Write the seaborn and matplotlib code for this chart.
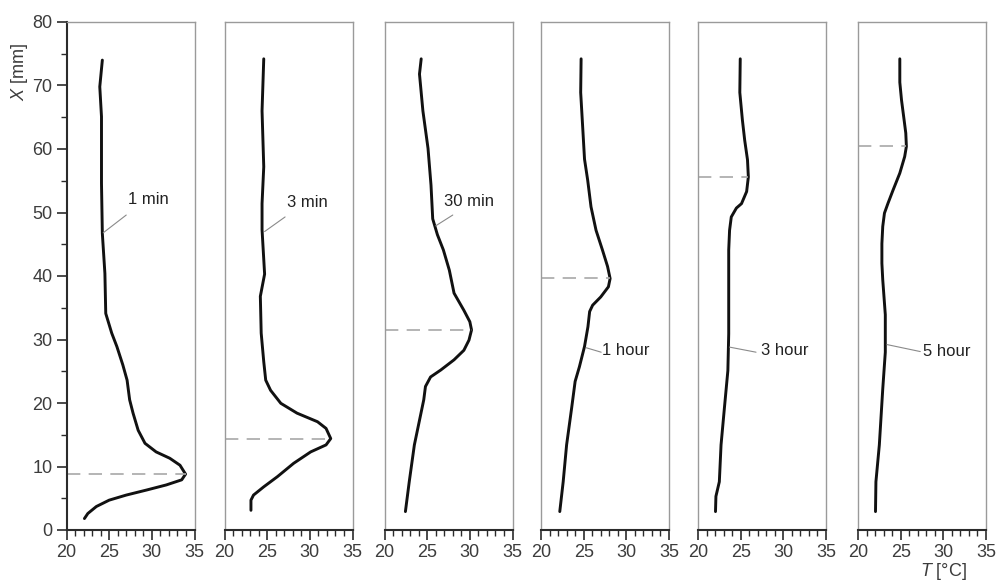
import numpy as np
import pandas as pd
import matplotlib
matplotlib.use("Agg")
import matplotlib.pyplot as plt
import seaborn as sns
from matplotlib.ticker import MultipleLocator

# ---------------- data ----------------
panel_labels = ["1 min", "3 min", "30 min", "1 hour", "3 hour", "5 hour"]

x_1min = [74.0, 69.8, 65.1, 59.8, 54.6, 46.7, 40.4, 34.1, 31.0, 28.9, 26.0, 23.6, 20.5, 18.4,
          15.7, 13.65, 12.3, 11.3, 10.2, 8.8, 7.9, 7.1, 6.3, 5.5, 4.7, 3.7, 2.6, 1.8]
t_1min = [24.2, 23.9, 24.1, 24.1, 24.1, 24.2, 24.5, 24.6, 25.3, 25.9, 26.6, 27.1, 27.4, 27.8,
          28.4, 29.2, 30.5, 32.1, 33.3, 33.95, 33.5, 31.7, 29.4, 27.0, 25.0, 23.5, 22.5, 22.1]

x_3min = [74.2, 66.0, 57.2, 51.4, 47.3, 40.3, 36.8, 31.0, 26.5, 23.6, 22.0, 19.95, 18.4, 17.05,
          16.0, 14.4, 13.4, 12.3, 10.5, 8.4, 6.8, 5.5, 4.7, 3.1]
t_3min = [24.6, 24.4, 24.6, 24.4, 24.4, 24.7, 24.2, 24.3, 24.6, 24.83, 25.4, 26.6, 28.5, 30.9,
          31.9, 32.45, 31.9, 30.1, 28.1, 26.2, 24.6, 23.4, 23.1, 23.1]

x_30min = [74.2, 71.8, 66.0, 60.1, 54.3, 49.0, 46.5, 44.1, 40.9, 37.3, 34.6, 32.8, 31.5, 29.9,
           28.3, 26.8, 25.2, 24.1, 22.6, 20.5, 13.4, 7.6, 2.9]
t_30min = [24.3, 24.1, 24.5, 25.1, 25.45, 25.65, 26.2, 26.9, 27.6, 28.15, 29.3, 30.0, 30.2, 29.9,
           29.3, 28.15, 26.6, 25.4, 24.8, 24.6, 23.5, 22.9, 22.45]

x_1hour = [74.2, 68.9, 63.1, 58.4, 55.1, 50.9, 47.2, 44.1, 41.5, 39.6, 38.3, 36.7, 35.4, 34.4,
           32.0, 28.9, 25.7, 23.4, 19.3, 13.4, 7.6, 2.9]
t_1hour = [24.7, 24.65, 24.9, 25.1, 25.47, 25.86, 26.45, 27.2, 27.8, 28.1, 27.9, 27.0, 26.05, 25.7,
           25.5, 25.1, 24.5, 24.0, 23.6, 23.0, 22.6, 22.2]

x_3hour = [74.2, 68.9, 64.6, 61.4, 58.3, 55.6, 53.3, 51.4, 50.7, 49.3, 47.2, 44.1, 36.8, 30.9,
           25.1, 19.3, 13.4, 7.6, 5.3, 2.9]
t_3hour = [24.95, 24.9, 25.2, 25.47, 25.8, 25.9, 25.7, 25.1, 24.5, 23.9, 23.7, 23.6, 23.6, 23.6,
           23.5, 23.1, 22.7, 22.5, 22.1, 22.05]

x_5hour = [74.2, 70.5, 67.7, 64.6, 62.5, 60.4, 58.8, 56.2, 53.5, 51.4, 49.9, 47.8, 45.1, 42.0,
           39.4, 33.9, 28.0, 22.2, 13.4, 7.6, 2.9]
t_5hour = [24.9, 24.9, 25.1, 25.4, 25.6, 25.67, 25.47, 24.9, 24.1, 23.5, 23.1, 22.9, 22.8, 22.8,
           22.9, 23.2, 23.2, 22.9, 22.5, 22.1, 22.05]

peak_x = [8.8, 14.4, 31.5, 39.7, 55.6, 60.5]
peak_t = [34.0, 32.45, 30.2, 28.1, 25.9, 25.67]

x_ticks = [20, 25, 30, 35]
y_ticks = [0, 10, 20, 30, 40, 50, 60, 70, 80]

series_x = [x_1min, x_3min, x_30min, x_1hour, x_3hour, x_5hour]
series_t = [t_1min, t_3min, t_30min, t_1hour, t_3hour, t_5hour]

frames = []
for lab, xs, ts in zip(panel_labels, series_x, series_t):
    frames.append(pd.DataFrame({"panel": lab, "X": xs, "T": ts}))
df = pd.concat(frames, ignore_index=True)

# ---------------- style ----------------
sns.set_style("ticks")
plt.rcParams["font.family"] = ["Liberation Sans", "DejaVu Sans"]
plt.rcParams["mathtext.fontset"] = "custom"
plt.rcParams["mathtext.it"] = "Liberation Sans:italic"
plt.rcParams["mathtext.rm"] = "Liberation Sans"

W, H = 998, 581
fig = plt.figure(figsize=(W / 100, H / 100), dpi=100)

lefts_px = [66.5, 224.5, 384.5, 541, 698, 858]
width_px = 128
bottom_px = 51
height_px = 508

# text/leader placement (data coords within each panel)
label_pos = [(27.2, 52.1), (27.3, 51.5), (27.0, 51.7), (27.2, 28.3), (27.4, 28.3), (27.6, 28.1)]
leader = [((27.0, 49.6), (24.3, 46.8)),
          ((27.1, 49.3), (24.7, 47.0)),
          ((28.0, 49.6), (26.0, 47.9)),
          ((27.05, 28.0), (25.3, 28.7)),
          ((26.8, 28.0), (23.7, 28.8)),
          ((27.3, 28.1), (23.4, 29.2))]

frame_gray = "#9a9a9a"
dark = "#2b2b2b"
tick_txt = "#3c3c3c"

for i, lab in enumerate(panel_labels):
    ax = fig.add_axes([lefts_px[i] / W, bottom_px / H, width_px / W, height_px / H])
    sub = df[df["panel"] == lab]
    sns.lineplot(data=sub, x="T", y="X", sort=False, estimator=None, ax=ax,
                 color="#111111", lw=2.1, solid_joinstyle="round", solid_capstyle="round")
    # dashed peak marker
    ax.plot([20, peak_t[i]], [peak_x[i], peak_x[i]], color="#a8a8a8", lw=1.2,
            dashes=(8, 5))
    # label and leader
    (x0, y0), (x1, y1) = leader[i]
    ax.plot([x0, x1], [y0, y1], color="#8a8a8a", lw=0.8)
    ax.text(label_pos[i][0], label_pos[i][1], lab, ha="left", va="center",
            fontsize=12, color="#222222")

    ax.set_xlim(20, 35)
    ax.set_ylim(0, 80)
    ax.set_xticks(x_ticks)
    ax.xaxis.set_minor_locator(MultipleLocator(1))
    ax.tick_params(axis="x", which="major", direction="out", length=7, width=1.2,
                   color=dark, labelsize=13, labelcolor=tick_txt, pad=3)
    ax.tick_params(axis="x", which="minor", direction="out", length=4, width=1.0, color=dark)
    ax.set_xlabel("")
    ax.set_ylabel("")
    for s in ["top", "right", "left"]:
        ax.spines[s].set_color(frame_gray)
        ax.spines[s].set_linewidth(1.0)
    ax.spines["bottom"].set_color(dark)
    ax.spines["bottom"].set_linewidth(1.5)
    if i == 0:
        ax.set_yticks(y_ticks)
        ax.yaxis.set_minor_locator(MultipleLocator(5))
        ax.tick_params(axis="y", which="major", direction="out", length=7, width=1.2,
                       color=dark, labelsize=13, labelcolor=tick_txt, pad=3)
        ax.tick_params(axis="y", which="minor", direction="out", length=4, width=1.0, color=dark)
        ax.spines["left"].set_color(dark)
        ax.spines["left"].set_linewidth(1.5)
    else:
        ax.set_yticks([])
        ax.tick_params(axis="y", which="both", left=False, labelleft=False)

fig.text(19 / W, 1 - 72 / H, "$X$ [mm]", rotation=90, ha="center", va="center",
         fontsize=13, color=tick_txt)
fig.text(943 / W, 1 - 571 / H, "$T$ [°C]", ha="center", va="center",
         fontsize=13, color=tick_txt)

fig.savefig("out.png", dpi=100)
